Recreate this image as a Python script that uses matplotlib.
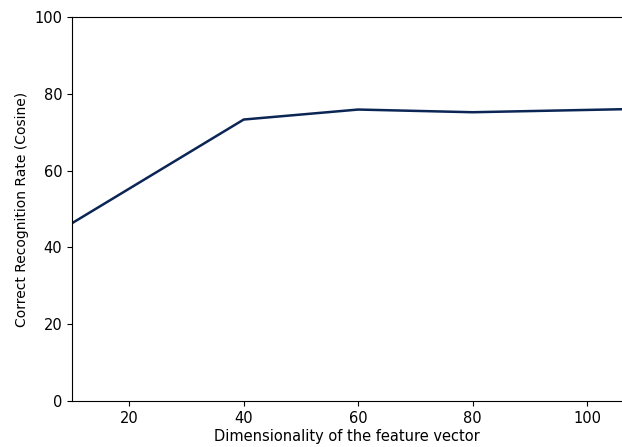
import numpy as np
import matplotlib.pyplot as plt

# dimensionality vs recognition rate (cosine)
dims = [10, 40, 60, 80, 100, 120]
rates = [46.3, 73.3, 75.9, 75.2, 75.8, 76.4]

fig = plt.figure(figsize=(6.22, 4.47), dpi=100)
ax = fig.add_axes([72 / 622, 1 - 401 / 447, 550 / 622, 384 / 447])

ax.plot(dims, rates, color="#0b2555", linewidth=1.8)

ax.set_xlim(10, 106.1)
ax.set_ylim(0, 100)
ax.set_xticks([20, 40, 60, 80, 100])
ax.set_yticks([0, 20, 40, 60, 80, 100])
ax.tick_params(labelsize=10.5)
ax.spines["right"].set_visible(False)

ax.set_xlabel("Dimensionality of the feature vector", fontsize=10.5, labelpad=2)
ax.set_ylabel("Correct Recognition Rate (Cosine)", fontsize=10)

fig.savefig("out.png", dpi=100)
